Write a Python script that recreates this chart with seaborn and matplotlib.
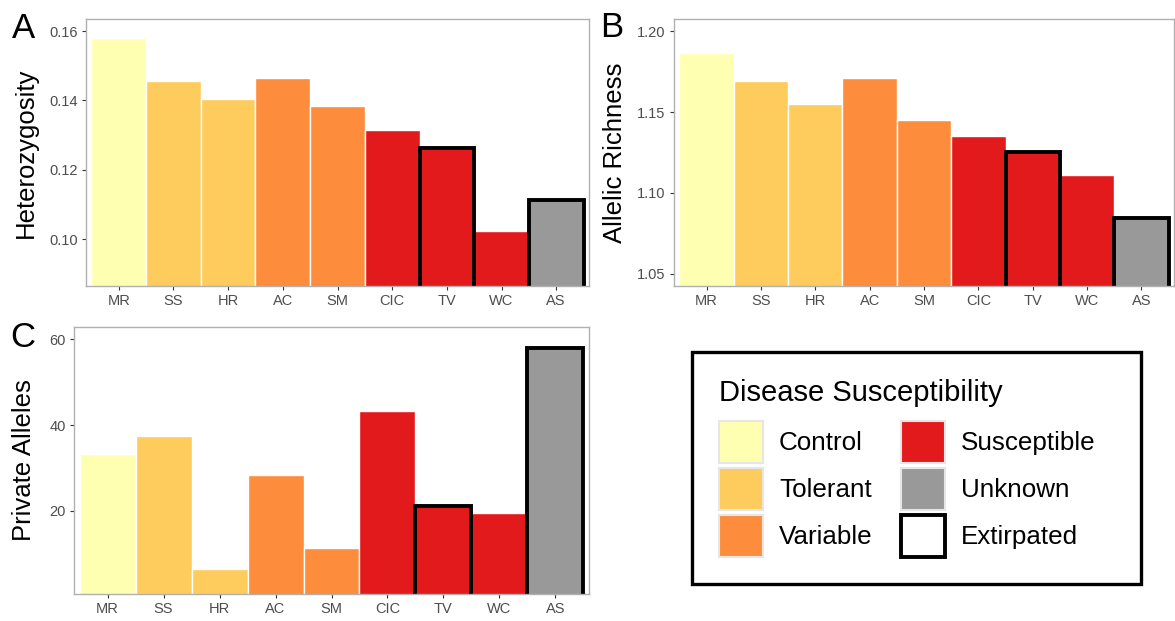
import matplotlib
matplotlib.use('Agg')
import matplotlib.pyplot as plt
from matplotlib.patches import Patch, Rectangle
from matplotlib.ticker import FormatStrFormatter
import seaborn as sns
import pandas as pd

# populations and their disease status
pops = ['MR', 'SS', 'HR', 'AC', 'SM', 'CIC', 'TV', 'WC', 'AS']
status = ['Control', 'Tolerant', 'Tolerant', 'Variable', 'Variable',
          'Susceptible', 'Susceptible', 'Susceptible', 'Unknown']
extirpated = ['TV', 'AS']

# values
het = [0.1581, 0.1456, 0.1405, 0.1466, 0.1385, 0.1316, 0.1262, 0.1024, 0.1112]
richness = [1.1867, 1.1692, 1.1551, 1.1711, 1.1452, 1.1352, 1.1255, 1.1112, 1.0845]
private = [33.3, 37.4, 6.4, 28.4, 11.4, 43.3, 21.1, 19.4, 57.9]

status_levels = ['Control', 'Tolerant', 'Variable', 'Susceptible', 'Unknown']
status_colors = ['#FFFFB2', '#FECC5C', '#FD8D3C', '#E31A1C', '#999999']
col_map = dict(zip(status_levels, status_colors))

df = pd.DataFrame({'pop': pops, 'status': status, 'het': het,
                   'ar': richness, 'pa': private})
pal = {p: col_map[s] for p, s in zip(pops, status)}

sns.set_theme(style='white')
plt.rcParams['font.family'] = ['Liberation Sans', 'DejaVu Sans']
plt.rcParams['text.color'] = 'black'
plt.rcParams['axes.labelcolor'] = 'black'

W, H = 1175, 621
fig = plt.figure(figsize=(W / 100, H / 100), dpi=100)

def box(l, r, t, b):
    return [l / W, 1 - b / H, (r - l) / W, (b - t) / H]

ax_a = fig.add_axes(box(86, 589, 19, 286))
ax_b = fig.add_axes(box(674, 1174, 19, 286))
ax_c = fig.add_axes(box(74, 589, 327, 594))

panels = [
    (ax_a, 'het', 'Heterozygosity', (0.0865, 0.1635), [0.10, 0.12, 0.14, 0.16], '%.2f', -0.095),
    (ax_b, 'ar', 'Allelic Richness', (1.0425, 1.2075), [1.05, 1.10, 1.15, 1.20], '%.2f', -0.095),
    (ax_c, 'pa', 'Private Alleles', (0.54, 62.9), [20, 40, 60], '%d', -0.074),
]

for ax, col, lab, lim, ticks, fmt, lx in panels:
    sns.barplot(data=df, x='pop', y=col, hue='pop', palette=pal, dodge=False,
                width=1, saturation=1, edgecolor='white', linewidth=1.0,
                errorbar=None, legend=False, ax=ax)
    for p, bar in zip(pops, ax.patches):
        if p in extirpated:
            bar.set_edgecolor('black')
            bar.set_linewidth(2.8)
            bar.set_zorder(2)
    ax.set_xlim(-0.6, 8.6)
    ax.set_ylim(*lim)
    ax.set_yticks(ticks)
    ax.yaxis.set_major_formatter(FormatStrFormatter(fmt))
    ax.set_xlabel('')
    ax.set_ylabel(lab, fontsize=18.5, color='black')
    ax.yaxis.set_label_coords(lx, 0.5)
    ax.tick_params(axis='both', which='major', labelsize=10.5, labelcolor='#4d4d4d',
                   color='#333333', length=3, width=0.8, pad=3,
                   left=True, bottom=True)
    for s in ax.spines.values():
        s.set_color('#b0b0b0')
        s.set_linewidth(1.0)
        s.set_visible(True)

# panel letters
fig.text(12 / W, 1 - 38 / H, 'A', fontsize=25, va='baseline', color='black')
fig.text(600 / W, 1 - 37 / H, 'B', fontsize=25, va='baseline', color='black')
fig.text(10 / W, 1 - 347 / H, 'C', fontsize=25, va='baseline', color='black')

# legend (frame drawn separately so its size matches)
handles = [Patch(facecolor=c, edgecolor='#e6e6e6', linewidth=1.5) for c in status_colors]
handles.append(Patch(facecolor='white', edgecolor='black', linewidth=2.8))
labels = status_levels + ['Extirpated']
leg = fig.legend(handles, labels, ncol=2, loc='upper left',
                 bbox_to_anchor=(692 / W, 1 - 352 / H), borderaxespad=0,
                 fontsize=18.7, title='Disease Susceptibility', title_fontsize=21,
                 frameon=False, handlelength=1.7, handleheight=2.11,
                 labelspacing=0.19, handletextpad=0.6, columnspacing=1.1,
                 borderpad=1.05, alignment='left', labelcolor='black')
leg.get_title().set_color('black')
leg._legend_box.sep = 10
fig.add_artist(Rectangle((692 / W, 1 - 584 / H), 449 / W, 232 / H,
                         transform=fig.transFigure, fill=False,
                         edgecolor='black', linewidth=2.4))

fig.savefig('out.png', dpi=100)
